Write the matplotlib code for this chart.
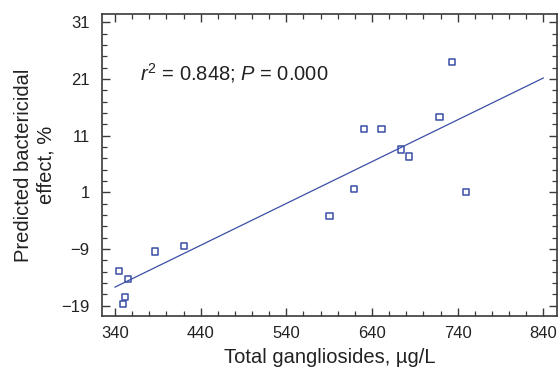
import matplotlib
matplotlib.use("Agg")
import matplotlib.pyplot as plt
from matplotlib.ticker import MultipleLocator, FixedLocator

plt.rcParams['font.family'] = ['Liberation Sans', 'DejaVu Sans']
plt.rcParams['mathtext.fontset'] = 'custom'
plt.rcParams['mathtext.rm'] = 'Liberation Sans'
plt.rcParams['mathtext.it'] = 'Liberation Sans:italic'

# Data
gangliosides = [345.0, 354.8, 352.1, 349.0, 386.4, 420.6, 590.4, 618.8, 630.9,
                651.1, 673.7, 683.1, 718.9, 733.7, 749.7]
effect = [-12.8, -14.3, -17.5, -18.7, -9.4, -8.4, -3.1, 1.65, 12.2,
          12.2, 8.6, 7.35, 14.3, 24.0, 1.07]
fit_x = [340, 840]
fit_y = [-15.7, 21.2]
x_ticks = [340, 440, 540, 640, 740, 840]
y_ticks = [-19, -9, 1, 11, 21, 31]
y_tick_labels = ['\u221219', '\u22129', '1', '11', '21', '31']

blue = '#3b4ea6'
dark = '#3a3a3a'

fig = plt.figure(figsize=(5.58, 3.68), dpi=100)
ax = fig.add_axes([102/558, 1 - 316/368, (557-102)/558, (316-14)/368])

ax.plot(fit_x, fit_y, color=blue, lw=0.9)
ax.scatter(gangliosides, effect, marker='s', s=20, facecolors='none',
           edgecolors=blue, linewidths=1.1, zorder=3)

ax.set_xlim(324.8, 856)
ax.set_ylim(-20.8, 32.5)
ax.xaxis.set_major_locator(FixedLocator(x_ticks))
ax.xaxis.set_minor_locator(MultipleLocator(20))
ax.yaxis.set_major_locator(FixedLocator(y_ticks))
ax.set_yticklabels(y_tick_labels)
ax.yaxis.set_minor_locator(FixedLocator([v for v in range(-19, 33, 2)]))

ax.tick_params(which='both', direction='in', top=True, right=True,
               color=dark, labelsize=12, labelcolor='#222222')
ax.tick_params(which='major', length=6, width=1.0)
ax.tick_params(axis='y', which='major', pad=9)
ax.tick_params(axis='x', which='major', pad=7)
ax.tick_params(which='minor', length=3.5, width=0.9)
for s in ax.spines.values():
    s.set_color(dark)
    s.set_linewidth(1.2)

ax.set_xlabel('Total gangliosides, \u00b5g/L', fontsize=14.5, color='#222222', labelpad=5)
ax.set_ylabel('Predicted bactericidal\neffect, %', fontsize=14.5, color='#222222',
              labelpad=4, linespacing=1.25)

ax.text(369, 22.0, r'$\mathit{r}^2$ = 0.848; $\mathit{P}$ = 0.000', fontsize=14.5,
        color='#222222', va='center', ha='left')

fig.savefig('out.png', dpi=100)
